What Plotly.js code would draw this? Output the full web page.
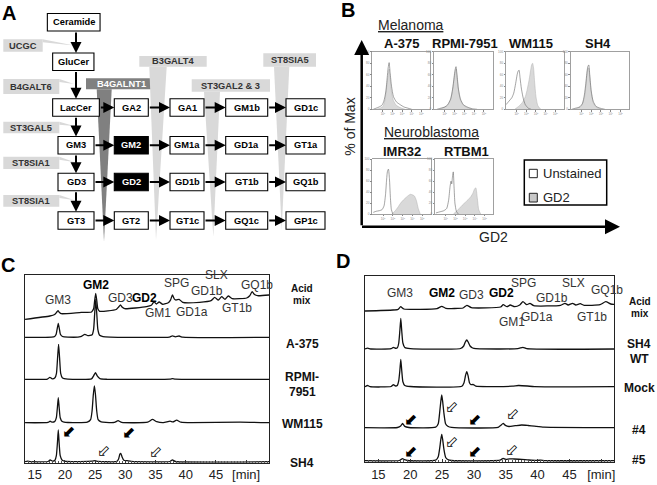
<!DOCTYPE html>
<html><head><meta charset="utf-8">
<script src="https://cdn.plot.ly/plotly-3.0.1.min.js"></script>
<style>html,body{margin:0;padding:0;background:#fff}#chart{width:657px;height:485px}</style>
</head><body><div id="chart"></div>
<script>
// ================= DATA =================
// Panel A – ganglioside pathway
const pathTop = ['Ceramide', 'GluCer'];
const pathGrid = [
  ['LacCer', 'GA2', 'GA1', 'GM1b', 'GD1c'],
  ['GM3', 'GM2', 'GM1a', 'GD1a', 'GT1a'],
  ['GD3', 'GD2', 'GD1b', 'GT1b', 'GQ1b'],
  ['GT3', 'GT2', 'GT1c', 'GQ1c', 'GP1c']
];
const highlighted = ['GM2', 'GD2'];
const sideEnzymes = ['UCGC', 'B4GALT6', 'ST3GAL5', 'ST8SIA1', 'ST8SIA1'];
const wedgeEnzymes = ['B4GALNT1', 'B3GALT4', 'ST3GAL2 & 3', 'ST8SIA5'];

// Panel B – flow cytometry (x = log10 GD2 intensity, y = % of max)
const flowCells = ['A-375', 'RPMI-7951', 'WM115', 'SH4', 'IMR32', 'RTBM1'];
const a375UnstX = [0, 0.3, 0.6, 0.9, 1.1, 1.3, 1.45, 1.55, 1.65, 1.75, 1.9, 2.1, 2.4, 2.8, 3.2, 3.6, 4.0];
const a375UnstY = [0, 2, 4, 7, 14, 30, 55, 72, 81, 64, 40, 22, 13, 8, 4, 2, 0];
const a375Gd2X = [0.3, 0.7, 1.0, 1.2, 1.4, 1.55, 1.65, 1.75, 1.9, 2.1, 2.4, 2.8, 3.3];
const a375Gd2Y = [0, 2, 5, 15, 40, 60, 70, 55, 30, 15, 7, 3, 0];
const rpmiUnstX = [0.2, 0.6, 1.0, 1.3, 1.6, 1.8, 1.95, 2.05, 2.15, 2.25, 2.4, 2.6, 2.9, 3.3, 3.8, 4.3];
const rpmiUnstY = [0, 2, 4, 8, 18, 35, 55, 68, 74, 60, 35, 18, 8, 4, 1, 0];
const rpmiGd2X = [0.4, 0.9, 1.3, 1.6, 1.8, 1.95, 2.05, 2.15, 2.25, 2.4, 2.6, 2.9, 3.3, 3.8];
const rpmiGd2Y = [0, 3, 7, 17, 33, 52, 64, 70, 57, 33, 16, 7, 3, 0];
const wm115UnstX = [-0.1, 0.2, 0.5, 0.7, 0.9, 1.05, 1.15, 1.25, 1.35, 1.5, 1.7, 1.9, 2.2, 2.5];
const wm115UnstY = [8, 14, 20, 28, 45, 60, 66, 68, 55, 35, 18, 8, 2, 0];
const wm115Gd2X = [0.8, 1.2, 1.6, 1.9, 2.1, 2.3, 2.45, 2.55, 2.65, 2.75, 2.85, 3.0, 3.2, 3.5];
const wm115Gd2Y = [0, 5, 12, 22, 35, 52, 68, 77, 80, 72, 50, 22, 6, 0];
const sh4UnstX = [0, 0.4, 0.8, 1.1, 1.3, 1.45, 1.55, 1.65, 1.75, 1.85, 2.0, 2.2, 2.5, 2.9, 3.4];
const sh4UnstY = [0, 2, 4, 10, 25, 45, 62, 74, 77, 60, 32, 14, 5, 2, 0];
const sh4Gd2X = [0.2, 0.6, 1.0, 1.3, 1.45, 1.55, 1.65, 1.75, 1.85, 2.0, 2.2, 2.5, 3.0];
const sh4Gd2Y = [0, 2, 6, 20, 40, 58, 70, 72, 56, 30, 12, 4, 0];
const imr32UnstX = [0, 0.3, 0.6, 0.9, 1.1, 1.25, 1.35, 1.45, 1.55, 1.65, 1.75, 1.85, 2.0];
const imr32UnstY = [3, 5, 6, 8, 15, 35, 60, 78, 82, 65, 30, 8, 0];
const imr32Gd2X = [1.9, 2.2, 2.5, 2.8, 3.1, 3.4, 3.6, 3.8, 4.0, 4.2, 4.4, 4.6, 4.8];
const imr32Gd2Y = [0, 5, 12, 20, 26, 31, 34, 36, 35, 33, 25, 10, 0];
const rtbm1UnstX = [0, 0.4, 0.8, 1.1, 1.3, 1.45, 1.55, 1.62, 1.7, 1.78, 1.86, 1.95, 2.1, 2.3];
const rtbm1UnstY = [2, 4, 6, 10, 25, 50, 60, 55, 68, 77, 50, 20, 5, 0];
const rtbm1Gd2X = [1.8, 2.1, 2.4, 2.7, 3.0, 3.3, 3.6, 3.8, 3.95, 4.1, 4.25, 4.4, 4.6];
const rtbm1Gd2Y = [0, 5, 10, 16, 21, 26, 32, 38, 45, 48, 30, 8, 0];
const flowTickVals = [1, 2, 3, 4, 5];
const flowTickText = ['10<sup>1</sup>', '10<sup>2</sup>', '10<sup>3</sup>', '10<sup>4</sup>', '10<sup>5</sup>'];
const pctTickVals = [0, 20, 40, 60, 80, 100];

// Panel C – HPLC chromatograms (time [min], signal above own baseline)
const cSamples = ['Acid mix', 'A-375', 'RPMI-7951', 'WM115', 'SH4'];
const cAcidTime = [13.4, 17.5, 18.3, 18.6, 18.85, 19.1, 19.4, 22.7, 24.4, 24.75, 24.92, 25.1, 25.28, 25.45, 25.75, 28.5, 28.9, 29.2, 29.5, 29.9, 33.5, 34.3, 34.75, 35.15, 35.6, 36.2, 37.1, 37.5, 37.8, 38.1, 38.4, 38.9, 39.5, 42.3, 44.2, 44.8, 45.4, 45.95, 46.5, 47.05, 47.7, 50.1, 50.6, 51.0, 51.4, 51.9, 53.8];
const cAcidSig = [0, 3.3, 4.8, 6.8, 8.6, 6.8, 5.6, 6.9, 7.3, 10.5, 18.5, 26.0, 18.5, 10.5, 8.0, 9.8, 12.3, 14.3, 12.0, 10.6, 12.6, 14.0, 17.6, 15.3, 17.3, 15.0, 16.6, 19.5, 24.3, 20.5, 19.3, 20.0, 17.0, 17.0, 18.6, 22.0, 19.3, 22.6, 20.0, 23.3, 20.6, 21.3, 23.5, 27.6, 24.8, 23.6, 24.3];
const cA375Time = [13.4, 17.8, 18.3, 18.55, 18.72, 18.9, 19.08, 19.25, 19.6, 20.5, 22.6, 23.3, 23.8, 24.5, 24.75, 24.92, 25.1, 25.28, 25.45, 25.75, 26.3, 27.5, 37.3, 37.8, 38.3, 38.9, 39.5, 53.8];
const cA375Sig = [0, 0.2, 0.8, 3, 8.5, 14.0, 8.5, 3, 0.8, 0.2, 0.6, 3.0, 1.6, 2.5, 8, 23, 38, 23, 8, 2, 0.6, 0.2, 0.2, 1.4, 0.5, 1.3, 0.1, 0];
const cRpmiTime = [13.4, 17.1, 17.5, 17.9, 18.35, 18.6, 18.78, 18.95, 19.12, 19.3, 19.6, 20.5, 24.4, 24.75, 25.05, 25.35, 25.8, 27, 37.4, 37.8, 38.3, 53.8];
const cRpmiSig = [0, 0.2, 2.0, 0.4, 1.5, 6, 21, 35, 21, 6, 1.2, 0.2, 0.4, 3.5, 6.6, 3.5, 0.6, 0, 0.1, 0.6, 0.1, 0];
const cWm115Time = [13.4, 17.2, 17.55, 17.9, 18.35, 18.58, 18.75, 18.9, 19.05, 19.22, 19.55, 20.5, 23.7, 24.25, 24.5, 24.7, 24.88, 25.06, 25.26, 25.5, 26, 26.8, 28.2, 28.8, 29.4, 33.7, 34.5, 35.2, 36.3, 37.4, 37.9, 38.5, 39.2, 41, 49, 53.8];
const cWm115Sig = [0, 0.3, 1.5, 0.5, 1.5, 5, 15, 25, 15, 5, 1.2, 0.2, 0.5, 3, 12, 28, 36.7, 28, 12, 3, 0.8, 0.3, 0.3, 2.0, 0.3, 0.5, 3.3, 1.0, 0, 1.5, 0.8, 2.5, 0.5, 0, 0.5, 0];
const cSh4Time = [13.4, 13.8, 14.3, 17.2, 17.55, 17.95, 18.35, 18.58, 18.75, 18.9, 19.05, 19.22, 19.55, 20.3, 24.5, 25.0, 25.5, 28.6, 28.9, 29.1, 29.25, 29.45, 29.75, 30.3, 31, 37.4, 37.8, 38.3, 53.8];
const cSh4Sig = [0, 0.5, 0, 0.2, 1.8, 0.5, 1.5, 6, 18, 31.7, 18, 6, 1.5, 0.2, 0.5, 1.0, 0.3, 0.3, 3, 7.5, 8.4, 5, 1.5, 1.0, 0.3, 0.2, 1.8, 0.2, 0];

// Panel D – HPLC chromatograms
const dSamples = ['Acid mix', 'SH4 WT', 'Mock', '#4', '#5'];
const dAcidTime = [12.9, 17.3, 18.1, 18.5, 19.0, 24.2, 24.95, 25.6, 28.3, 28.9, 29.6, 34.2, 34.6, 35.2, 35.7, 36.4, 37.2, 37.7, 38.3, 38.8, 39.4, 43.6, 44.3, 44.8, 45.5, 46.0, 46.7, 47.3, 49.8, 50.7, 51.5, 52.0];
const dAcidSig = [0, 1.0, 1.7, 4.3, 2.0, 2.3, 4.7, 2.7, 3.0, 5.7, 3.3, 4.0, 6.3, 4.3, 6.0, 4.3, 6.0, 9.3, 6.3, 7.7, 5.3, 5.7, 7.7, 6.0, 7.7, 6.0, 7.3, 5.7, 6.3, 9.3, 7.0, 6.7];
const dWtTime = [12.9, 13.3, 13.8, 17.0, 17.35, 17.75, 18.0, 18.2, 18.37, 18.52, 18.67, 18.85, 19.15, 20, 27.9, 28.4, 28.65, 28.88, 29.1, 29.4, 29.8, 30.3, 36.9, 37.7, 38.3, 52];
const dWtSig = [0, 0.8, 0, 0.3, 1.7, 0.6, 1.3, 6, 18, 30.7, 18, 6, 1.5, 0.3, 0.5, 3, 7, 9, 7, 3, 1, 0.3, 0.3, 1.7, 0.3, 0];
const dMockTime = [12.9, 13.3, 13.7, 17.0, 17.35, 17.7, 18.0, 18.2, 18.37, 18.52, 18.67, 18.85, 19.15, 20, 28.1, 28.45, 28.68, 28.88, 29.08, 29.3, 29.55, 29.85, 30.3, 36, 37, 38.4, 39.5, 52];
const dMockSig = [0, 1.2, 0, 0.2, 2.0, 0.7, 1.5, 6, 16, 27.4, 16, 5, 1.2, 0.2, 0.5, 4, 11, 15, 11, 4, 2.0, 2.4, 0.5, 0.5, 1.2, 0.7, 0, 0];
const dC4Time = [12.9, 18.0, 18.5, 18.8, 19.15, 19.8, 24.0, 24.4, 24.62, 24.8, 24.95, 25.1, 25.3, 25.55, 25.9, 26.5, 33.8, 34.25, 34.6, 34.95, 35.5, 36.5, 37.5, 38.5, 39.5, 41, 52];
const dC4Sig = [0, 0.2, 1.6, 4.4, 1.3, 0.2, 0.5, 4, 15, 26, 32.7, 26, 14, 4, 1.5, 0.3, 0.3, 2.5, 4.4, 2.3, 1.2, 2.0, 2.7, 2.2, 1.5, 0.5, 0];
const dC5Time = [12.9, 18.3, 18.55, 18.8, 19.1, 19.6, 24.0, 24.4, 24.62, 24.8, 24.95, 25.1, 25.3, 25.55, 25.9, 26.5, 34.1, 34.6, 35.0, 35.6, 36.3, 37.5, 38.6, 40, 40.5, 41.2, 52];
const dC5Sig = [0, 0.2, 1.2, 2.0, 1.0, 0.2, 0.5, 4, 12, 21, 26.4, 21, 11, 3.5, 1.2, 0.2, 0.5, 2.4, 1.2, 1.9, 1.7, 1.3, 0.7, 0.3, 0.6, 0.1, 0];

const peakNames = ['GM3', 'GM2', 'GD3', 'GD2', 'SPG', 'SLX', 'GD1b', 'GQ1b', 'GM1', 'GD1a', 'GT1b'];
const boldPeaks = ['GM2', 'GD2'];
const timeTicks = [15, 20, 25, 30, 35, 40, 45, 50];
const timeTickText = ['15', '20', '25', '30', '35', '40', '45', '[min]'];

// ================= LAYOUT HELPERS =================
const W = 657, H = 485;
const FONT = 'Arial, "Liberation Sans", sans-serif';
const px = x => x / W, py = y => 1 - y / H;
const domX = (a, b) => [a / W, b / W];
const domY = (top, bot) => [1 - bot / H, 1 - top / H];
const traces = [];
const shapes = [];
const ann = [];
function T(text, x, y, size, opt) {
  ann.push(Object.assign({text: text, x: px(x), y: py(y), xref: 'paper', yref: 'paper', showarrow: false,
    font: {family: FONT, size: size || 13, color: '#222'}, xanchor: 'center', yanchor: 'middle'}, opt || {}));
}

// ================= PANEL A =================
const colC = [76, 131.3, 187, 246.7, 305.5];
const colW = [36, 34, 34, 42, 39];
const rowC = [107.5, 145.3, 182, 220.5];
const boxH = 17.5;
const topBoxes = [{c: 73.7, y: 22.3, w: 52.7}, {c: 73.3, y: 61.7, w: 41.3}];
const lacW = 46.7;
const aFont = 9.3;
traces.push({x: [0], y: [0], xaxis: 'x', yaxis: 'y', mode: 'markers', marker: {opacity: 0}, hoverinfo: 'skip'});
const wedgeRects = [[86, 156, 78.3, 89.3], [139.3, 206.7, 56, 66.7], [191.7, 270, 79.3, 91.7], [263.3, 316, 53.3, 66.7]];
const wedgeTri = [[96.7, 111.7, 104, 241.7], [149.3, 166.7, 156, 240], [204, 220, 213.3, 236.7], [274, 289.3, 281.7, 230]];
wedgeEnzymes.forEach((name, i) => {
  const dark = i === 0;
  const col = dark ? '#808080' : '#d9d9d9';
  const r = wedgeRects[i], t = wedgeTri[i];
  shapes.push({type: 'path', xref: 'x', yref: 'y', path: `M${t[0]},${r[3]} L${t[1]},${r[3]} L${t[2]},${t[3]} Z`, fillcolor: col, line: {width: 0}});
  shapes.push({type: 'rect', xref: 'x', yref: 'y', x0: r[0], x1: r[1], y0: r[2], y1: r[3], fillcolor: col, line: {width: 0}});
  ann.push({text: '<b>' + name + '</b>', x: (r[0] + r[1]) / 2, y: (r[2] + r[3]) / 2, xref: 'x', yref: 'y', showarrow: false,
    font: {family: FONT, size: aFont, color: dark ? '#fff' : '#333'}});
});
const sideRects = [[3.3, 42.7, 39.3, 51.7], [3.3, 59.3, 79, 94], [3.3, 59.3, 121.7, 133.3], [3.3, 59.3, 156.7, 169], [3.3, 59.3, 195, 206.7]];
const sideTargets = [45.5, 84, 126, 162, 200];
sideEnzymes.forEach((name, i) => {
  const r = sideRects[i];
  shapes.push({type: 'path', xref: 'x', yref: 'y', path: `M${r[1]},${r[2]} L74,${sideTargets[i]} L${r[1]},${r[2] + 3} Z`, fillcolor: '#d9d9d9', line: {width: 0}});
  shapes.push({type: 'rect', xref: 'x', yref: 'y', x0: r[0], x1: r[1], y0: r[2], y1: r[3], fillcolor: '#d9d9d9', line: {width: 0}});
  ann.push({text: '<b>' + name + '</b>', x: (r[0] + r[1]) / 2, y: (r[2] + r[3]) / 2, xref: 'x', yref: 'y', showarrow: false,
    font: {family: FONT, size: aFont, color: '#333'}});
});
function node(label, cx, cy, w) {
  const hi = highlighted.includes(label);
  shapes.push({type: 'rect', xref: 'x', yref: 'y', x0: cx - w / 2, x1: cx + w / 2, y0: cy - boxH / 2, y1: cy + boxH / 2,
    fillcolor: hi ? '#000' : '#fff', line: {color: '#000', width: 1.1}});
  ann.push({text: '<b>' + label + '</b>', x: cx, y: cy, xref: 'x', yref: 'y', showarrow: false,
    font: {family: FONT, size: aFont, color: hi ? '#fff' : '#000'}});
}
function arrowA(x0, y0, x1, y1) {
  ann.push({text: '', x: x1, y: y1, ax: x0, ay: y0, xref: 'x', yref: 'y', axref: 'x', ayref: 'y', showarrow: true,
    arrowhead: 2, arrowsize: 1.1, arrowwidth: 2, arrowcolor: '#000', standoff: 0, startstandoff: 0});
}
pathTop.forEach((l, i) => node(l, topBoxes[i].c, topBoxes[i].y, topBoxes[i].w));
pathGrid.forEach((row, r) => row.forEach((l, c) => node(l, colC[c], rowC[r], (r === 0 && c === 0) ? lacW : colW[c])));
arrowA(76, topBoxes[0].y + boxH / 2, 76, topBoxes[1].y - boxH / 2);
arrowA(76, topBoxes[1].y + boxH / 2, 76, rowC[0] - boxH / 2);
for (let r = 0; r < 3; r++) arrowA(76, rowC[r] + boxH / 2, 76, rowC[r + 1] - boxH / 2);
pathGrid.forEach((row, r) => {
  for (let c = 0; c < row.length - 1; c++) {
    const w0 = (r === 0 && c === 0) ? lacW : colW[c];
    arrowA(colC[c] + w0 / 2, rowC[r], colC[c + 1] - colW[c + 1] / 2, rowC[r]);
  }
});

// ================= PANEL B =================
const flowBoxes = [[372.3, 430, 51.7, 109.3], [434, 492.7, 51.7, 109.3], [506, 564, 51.7, 109.3], [570.7, 629.3, 51.7, 109.3], [372.3, 431, 159.3, 214], [435, 493.3, 159.3, 214]];
const flowData = [
  [a375UnstX, a375UnstY, a375Gd2X, a375Gd2Y], [rpmiUnstX, rpmiUnstY, rpmiGd2X, rpmiGd2Y],
  [wm115UnstX, wm115UnstY, wm115Gd2X, wm115Gd2Y], [sh4UnstX, sh4UnstY, sh4Gd2X, sh4Gd2Y],
  [imr32UnstX, imr32UnstY, imr32Gd2X, imr32Gd2Y], [rtbm1UnstX, rtbm1UnstY, rtbm1Gd2X, rtbm1Gd2Y]];
const flowTitlePos = [[401, 43.3], [465, 43.3], [531, 43.3], [597.5, 43.3], [402, 151.7], [466, 151.7]];
const axesB = {};
flowCells.forEach((name, i) => {
  const n = i + 4, b = flowBoxes[i], d = flowData[i];
  traces.push({x: d[2], y: d[3], xaxis: 'x' + n, yaxis: 'y' + n, mode: 'lines', fill: 'tozeroy', fillcolor: '#d9d9d9',
    line: {color: '#b0b0b0', width: 0.5, shape: 'spline', smoothing: 0.6}, hoverinfo: 'skip'});
  traces.push({x: d[0], y: d[1], xaxis: 'x' + n, yaxis: 'y' + n, mode: 'lines',
    line: {color: '#666', width: 0.6, shape: 'spline', smoothing: 0.6}, hoverinfo: 'skip'});
  axesB['xaxis' + n] = {domain: domX(b[0], b[1]), anchor: 'y' + n, range: [-0.1, 5.9], showline: true, mirror: true, linecolor: '#888', linewidth: 0.8,
    showgrid: false, zeroline: false, tickvals: flowTickVals, ticktext: flowTickText, ticks: 'outside', ticklen: 1.5, tickcolor: '#888',
    tickfont: {size: 3, color: '#888', family: FONT}, fixedrange: true};
  axesB['yaxis' + n] = {domain: domY(b[2], b[3]), anchor: 'x' + n, range: [0, 100], showline: true, mirror: true, linecolor: '#888', linewidth: 0.8,
    showgrid: false, zeroline: false, tickvals: pctTickVals, ticks: 'outside', ticklen: 1.5, tickcolor: '#888',
    tickfont: {size: 3, color: '#888', family: FONT}, fixedrange: true};
  T('<b>' + name + '</b>', flowTitlePos[i][0], flowTitlePos[i][1], 13, {font: {family: FONT, size: 13, color: '#111'}});
});
T('<u>Melanoma</u>', 410.8, 25, 14);
T('<u>Neuroblastoma</u>', 431.7, 131.7, 14);
T('% of Max', 350, 126.7, 14, {textangle: -90});
T('GD2', 493.3, 237.3, 14);
ann.push({text: '', x: px(361.7), y: py(40), xref: 'paper', yref: 'paper', ax: 0, ay: 186.7, showarrow: true, arrowhead: 2, arrowsize: 1.2, arrowwidth: 2.5, arrowcolor: '#000', standoff: 0});
ann.push({text: '', x: px(620), y: py(226.7), xref: 'paper', yref: 'paper', ax: -259.5, ay: 0, showarrow: true, arrowhead: 2, arrowsize: 1.2, arrowwidth: 2.5, arrowcolor: '#000', standoff: 0});
shapes.push({type: 'rect', xref: 'paper', yref: 'paper', x0: px(524.3), x1: px(606.7), y0: py(205), y1: py(160), line: {color: '#000', width: 1.5}, fillcolor: 'rgba(0,0,0,0)'});
shapes.push({type: 'rect', xref: 'paper', yref: 'paper', x0: px(529.3), x1: px(537.3), y0: py(177.7), y1: py(169.3), line: {color: '#222', width: 1}, fillcolor: '#fff'});
shapes.push({type: 'rect', xref: 'paper', yref: 'paper', x0: px(529.3), x1: px(537.3), y0: py(202), y1: py(193.3), line: {color: '#222', width: 1}, fillcolor: '#c8c8c8'});
T('Unstained', 540.5, 173.5, 13, {xanchor: 'left'});
T('GD2', 540.5, 197.5, 13, {xanchor: 'left'});

// ================= PANELS C & D =================
function chrom(axisN, series, offsets) {
  series.forEach((d, i) => {
    traces.push({x: d[0], y: d[1].map(v => v + offsets[i]), xaxis: 'x' + axisN, yaxis: 'y' + axisN, mode: 'lines',
      line: {color: '#111', width: 1.3, shape: 'spline', smoothing: 0.5}, hoverinfo: 'skip', name: d[2]});
  });
}
chrom(2, [[cAcidTime, cAcidSig, cSamples[0]], [cA375Time, cA375Sig, cSamples[1]], [cRpmiTime, cRpmiSig, cSamples[2]], [cWm115Time, cWm115Sig, cSamples[3]], [cSh4Time, cSh4Sig, cSamples[4]]],
  [143.4, 125.4, 83.4, 40, 1.0]);
chrom(3, [[dAcidTime, dAcidSig, dSamples[0]], [dWtTime, dWtSig, dSamples[1]], [dMockTime, dMockSig, dSamples[2]], [dC4Time, dC4Sig, dSamples[3]], [dC5Time, dC5Sig, dSamples[4]]],
  [151, 113, 75.3, 34.3, 1.3]);
function timeAxis(dom, range, anchor) {
  return {domain: dom, range: range, anchor: anchor, showline: true, mirror: true, linecolor: '#222', linewidth: 1, showgrid: false, zeroline: false,
    tickvals: timeTicks, ticktext: timeTickText, ticks: 'inside', ticklen: 3, tickcolor: '#333', tickfont: {family: FONT, size: 13, color: '#222'},
    minor: {ticks: 'inside', ticklen: 2, tickmode: 'linear', tick0: 0, dtick: 0.5, tickcolor: '#555', showgrid: false}, fixedrange: true};
}
function sigAxis(dom, range, anchor) {
  return {domain: dom, range: range, anchor: anchor, showline: true, mirror: true, linecolor: '#222', linewidth: 1, showgrid: false, zeroline: false,
    ticks: '', showticklabels: false, fixedrange: true};
}
const cLabelPos = [[58.3, 300], [96, 285], [120, 298.3], [144.5, 298.3], [176.7, 283.3], [216.7, 275], [206.7, 290.7], [256.7, 285], [158.3, 313.3], [191.7, 311.7], [236.7, 308.3]];
const dLabelPos = [[400, 293.3], [441.7, 293.3], [471.7, 295], [501, 293.3], [523.3, 283.3], [573.3, 283.3], [551.7, 298.3], [606.7, 290], [511.7, 321.7], [537.3, 316.7], [591.7, 316.7]];
peakNames.forEach((p, i) => {
  const b = boldPeaks.includes(p);
  const txt = b ? '<b>' + p + '</b>' : p;
  T(txt, cLabelPos[i][0], cLabelPos[i][1], 12, {font: {family: FONT, size: 12, color: b ? '#000' : '#333'}});
  T(txt, dLabelPos[i][0], dLabelPos[i][1], 12, {font: {family: FONT, size: 12, color: b ? '#000' : '#333'}});
});
const bold = (s, x, y, size) => T('<b>' + s + '</b>', x, y, size, {font: {family: FONT, size: size, color: '#111'}});
bold('Acid', 302, 288, 10); bold('mix', 302, 300, 10);
bold('A-375', 302, 344, 12); bold('RPMI-', 302, 376.5, 12); bold('7951', 302, 391.5, 12);
bold('WM115', 302, 424, 12); bold('SH4', 302, 462.5, 12);
bold('Acid', 640, 301.7, 10); bold('mix', 640, 313.3, 10);
bold('SH4', 639, 344, 12); bold('WT', 639, 359.3, 12); bold('Mock', 639, 388.3, 12);
bold('#4', 639, 430, 12); bold('#5', 639, 460, 12);
const arrowGlyph = (filled, x, y) => T(filled ? '\u2B0B' : '\u2B03', x, y, 16, {font: {family: '"DejaVu Sans", sans-serif', size: 16, color: '#000'}});
arrowGlyph(true, 68.3, 431.7); arrowGlyph(true, 128.3, 432.7); arrowGlyph(false, 103.3, 450); arrowGlyph(false, 155, 451.7);
arrowGlyph(true, 410, 419.3); arrowGlyph(true, 474, 419.3); arrowGlyph(true, 410, 451.7); arrowGlyph(true, 474, 451.7);
arrowGlyph(false, 451.7, 406.7); arrowGlyph(false, 512.7, 413.3); arrowGlyph(false, 451.7, 441.7); arrowGlyph(false, 511.7, 449.3);

T('<b>A</b>', 9.3, 13.3, 20, {font: {family: FONT, size: 20, color: '#000'}});
T('<b>B</b>', 348.3, 10, 20, {font: {family: FONT, size: 20, color: '#000'}});
T('<b>C</b>', 8.3, 265, 20, {font: {family: FONT, size: 20, color: '#000'}});
T('<b>D</b>', 342.7, 260.7, 20, {font: {family: FONT, size: 20, color: '#000'}});

const layout = Object.assign({
  width: W, height: H, margin: {l: 0, r: 0, t: 0, b: 0}, showlegend: false,
  paper_bgcolor: '#fff', plot_bgcolor: 'rgba(0,0,0,0)', font: {family: FONT},
  xaxis: {domain: domX(0, 330), range: [0, 330], visible: false, fixedrange: true},
  yaxis: {domain: domY(0, 250), range: [250, 0], visible: false, fixedrange: true, anchor: 'x'},
  xaxis2: timeAxis(domX(25, 269.3), [13.39, 53.84], 'y2'),
  yaxis2: sigAxis(domY(275, 462.7), [0, 187.7], 'x2'),
  xaxis3: timeAxis(domX(365, 614), [12.9, 52.0], 'y3'),
  yaxis3: sigAxis(domY(276, 462), [0, 186], 'x3'),
  shapes: shapes, annotations: ann
}, axesB);
Plotly.newPlot('chart', traces, layout, {staticPlot: true, displayModeBar: false});
</script></body></html>
